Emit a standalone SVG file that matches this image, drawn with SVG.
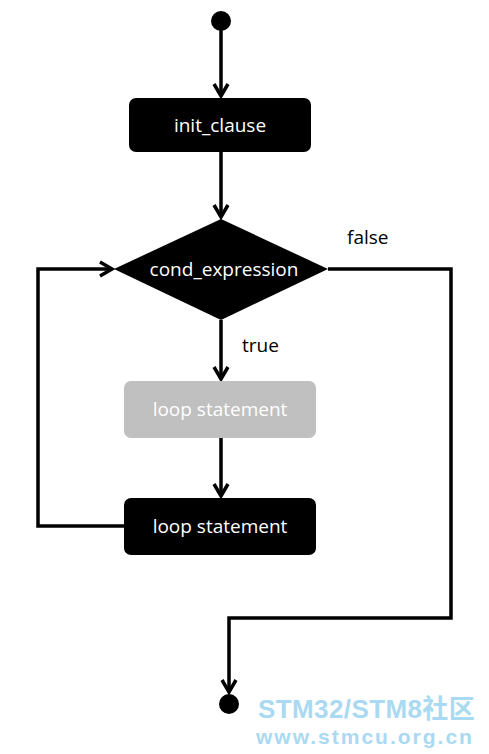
<svg xmlns="http://www.w3.org/2000/svg" width="489" height="754" viewBox="0 0 489 754">
<defs>
<style>
.ln{fill:none;stroke:#000;stroke-width:3.5}
.ah{fill:none;stroke:#000;stroke-width:3.5;stroke-linejoin:miter}
.lbl{font-family:"Open Sans","Noto Sans",sans-serif;font-size:19px;fill:#fff;text-anchor:middle}
.edge{font-family:"Open Sans","Noto Sans",sans-serif;font-size:19px;fill:#000}
.wm{font-family:"Liberation Sans","Noto Sans CJK SC",sans-serif;font-weight:bold;fill:#aad9f2}
</style>
</defs>
<rect width="489" height="754" fill="#fff"/>
<g id="connectors">
<line class="ln" x1="221" y1="21" x2="221" y2="96"/>
<polyline class="ah" points="214,84 221,96 228,84"/>
<line class="ln" x1="221" y1="152" x2="221" y2="217"/>
<polyline class="ah" points="214,205 221,217 228,205"/>
<line class="ln" x1="221" y1="320" x2="221" y2="379"/>
<polyline class="ah" points="214,367 221,379 228,367"/>
<line class="ln" x1="221" y1="438" x2="221" y2="496"/>
<polyline class="ah" points="214,484 221,496 228,484"/>
<polyline class="ln" points="125,526 38,526 38,269 112,269"/>
<polyline class="ah" points="100,262 112,269 100,276"/>
<polyline class="ln" points="328,269 451,269 451,618 229,618 229,692"/>
<polyline class="ah" points="222,680 229,692 236,680"/>
<text class="edge" x="347" y="244">false</text>
<text class="edge" x="242" y="352">true</text>
</g>
<g id="start"><circle cx="221" cy="21" r="10" fill="#000"/></g>
<g id="init_clause">
<rect x="129" y="98" width="182" height="54" rx="7" fill="#000"/>
<text class="lbl" x="220" y="132">init_clause</text>
</g>
<g id="cond_expression">
<polygon points="221,219 328,269 221,320 114,269" fill="#000"/>
<text class="lbl" x="224" y="276">cond_expression</text>
</g>
<g id="loop_statement_gray">
<rect x="124" y="381" width="192" height="57" rx="7" fill="#c0c0c0"/>
<text class="lbl" x="220" y="416" fill="#f4f4f4">loop statement</text>
</g>
<g id="loop_statement">
<rect x="124" y="498" width="192" height="57" rx="7" fill="#000"/>
<text class="lbl" x="220" y="533">loop statement</text>
</g>
<g id="end"><circle cx="229" cy="704" r="10" fill="#000"/></g>
<g id="watermark">
<text class="wm" x="258" y="718" font-size="26" letter-spacing="0.4">STM32/STM8社区</text>
<text class="wm" x="256" y="744" font-size="21" letter-spacing="2">www.stmcu.org.cn</text>
</g>
</svg>
